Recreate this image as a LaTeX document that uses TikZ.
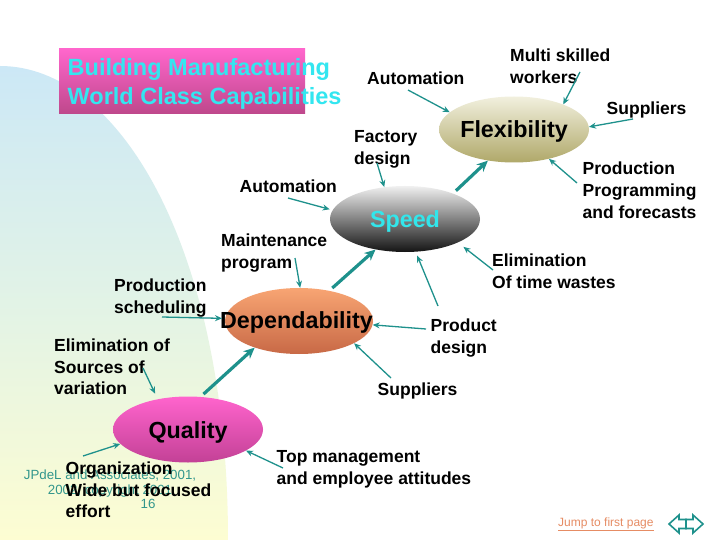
\documentclass[tikz,border=0pt]{standalone}
\usepackage{fontspec}
\setmainfont{Liberation Sans}
\usetikzlibrary{shapes.geometric,arrows.meta}
\definecolor{bgtop}{RGB}{204,232,246}
\definecolor{bgmid}{RGB}{226,243,230}
\definecolor{bgbot}{RGB}{253,253,210}
\definecolor{titletop}{RGB}{255,102,204}
\definecolor{titlebot}{RGB}{190,72,140}
\definecolor{titlecyan}{RGB}{51,230,240}
\definecolor{flextop}{RGB}{242,240,222}
\definecolor{flexbot}{RGB}{175,168,105}
\definecolor{speedtop}{RGB}{240,240,240}
\definecolor{speedbot}{RGB}{20,20,20}
\definecolor{speedtext}{RGB}{50,230,235}
\definecolor{deptop}{RGB}{248,165,115}
\definecolor{depbot}{RGB}{200,105,70}
\definecolor{qualtop}{RGB}{255,100,205}
\definecolor{qualbot}{RGB}{195,65,150}
\definecolor{arrowc}{RGB}{30,145,140}
\definecolor{wmc}{RGB}{50,150,140}
\definecolor{jumpc}{RGB}{230,140,100}
\begin{document}
\begin{tikzpicture}[x=1pt,y=-1pt,
  lbl/.style={inner sep=0pt, anchor=north west, align=left, font=\bfseries\fontsize{17.5}{21.8}\selectfont},
  oval/.style={ellipse, inner sep=0pt, minimum width=150pt, minimum height=66pt, draw=none},
  otext/.style={font=\bfseries\fontsize{23.3}{28}\selectfont, inner sep=0pt},
  tarrow/.style={draw=arrowc, line width=1.3pt, -{Stealth[length=7pt,width=6pt]}},
  barrow/.style={draw=arrowc, line width=3.2pt, -{Stealth[length=11pt,width=10pt]}, shorten <=4pt},
  navarrow/.style={draw=arrowc, line width=1.6pt, line join=miter}]
\useasboundingbox (0,0) rectangle (720,540);
\fill[white] (0,0) rectangle (720,540);
% background swoosh
\shade[top color=bgtop, bottom color=bgbot, middle color=bgmid]
  (0,66) .. controls (120,66) and (228,250) .. (228,540) -- (0,540) -- cycle;
% title
\shade[top color=titletop, bottom color=titlebot] (59,49) rectangle (305,113.5);
\node[inner sep=0pt, anchor=north west, align=left, text=titlecyan,
      font=\bfseries\fontsize{23.5}{29}\selectfont] (title) at (67.5,58.5)
      {Building Manufacturing\\World Class Capabilities};
% watermark
\node[inner sep=0pt, anchor=north, align=center, text=wmc, font=\fontsize{13.3}{15}\selectfont]
  (wm) at (110,469.8) {JPdeL and Associates, 2001,\\2002, copyright 2001};
\node[inner sep=0pt, anchor=north, text=wmc, font=\fontsize{13.3}{15}\selectfont] (pg) at (148,499) {16};
% ellipses
\node[oval, top color=flextop, bottom color=flexbot,
  label={[otext, yshift=-2.4pt]center:Flexibility}] (flex) at (514,129.5) {};
\node[oval, top color=speedtop, bottom color=speedbot,
  label={[otext, text=speedtext, yshift=-2.4pt]center:Speed}] (speed) at (405,219) {};
\node[oval, minimum width=148pt, top color=deptop, bottom color=depbot,
  label={[otext, xshift=-2.5pt, yshift=-1pt]center:Dependability}] (dep) at (299,321) {};
\node[oval, top color=qualtop, bottom color=qualbot,
  label={[otext, yshift=-3.4pt]center:Quality}] (qual) at (188,429.5) {};
% labels
\node[lbl] (l1) at (367,72) {Automation};
\node[lbl] (l2) at (510,48.5) {Multi skilled\\workers};
\node[lbl] (l3) at (606.5,101.5) {Suppliers};
\node[lbl] (l4) at (354,130) {Factory\\design};
\node[lbl] (l5) at (582.5,161.7) {Production\\Programming\\and forecasts};
\node[lbl] (l6) at (239.5,180) {Automation};
\node[lbl] (l7) at (221,233.5) {Maintenance\\program};
\node[lbl] (l8) at (492,253.5) {Elimination\\Of time wastes};
\node[lbl] (l9) at (114,279) {Production\\scheduling};
\node[lbl] (l10) at (430.5,318.5) {Product\\design};
\node[lbl] (l11) at (54,338.5) {Elimination of\\Sources of\\variation};
\node[lbl] (l12) at (377.5,382.5) {Suppliers};
\node[lbl] (l13) at (276.5,450) {Top management\\and employee attitudes};
\node[lbl] (l14) at (65.5,461.5) {Organization\\Wide but focused\\effort};
% arrow start points
\coordinate (c1) at (408,90);
\coordinate (c2) at (580,72);
\coordinate (c3) at (633,119);
\coordinate (c4) at (577,183);
\coordinate (c5) at (377,163);
\coordinate (c6) at (288,198);
\coordinate (c7) at (493,270);
\coordinate (c8) at (438,306);
\coordinate (c9) at (426,329);
\coordinate (c10) at (391,378);
\coordinate (c11) at (295,258);
\coordinate (c12) at (162,317);
\coordinate (c13) at (143,368);
\coordinate (c14) at (83,456);
\coordinate (c15) at (283,468);
% thin arrows
\draw[tarrow] (c1) -- (flex.165);
\draw[tarrow] (c2) -- (flex.27);
\draw[tarrow] (c3) -- (flex.2);
\draw[tarrow] (c4) -- (flex.320);
\draw[tarrow] (c5) -- (speed.123);
\draw[tarrow, shorten >=3pt] (c6) -- (speed.173);
\draw[tarrow, shorten >=7pt] (c7) -- (speed.336);
\draw[tarrow, shorten >=4pt] (c8) -- (speed.288);
\draw[tarrow] (c9) -- (dep.357);
\draw[tarrow] (c10) -- (dep.338);
\draw[tarrow] (c11) -- (dep.88);
\draw[tarrow, shorten >=3pt] (c12) -- (dep.178);
\draw[tarrow, shorten >=6pt] (c13) -- (qual.135);
\draw[tarrow] (c14) -- (qual.192);
\draw[tarrow] (c15) -- (qual.340);
% thick arrows
\draw[barrow] (qual.69) -- (dep.211);
\draw[barrow] (dep.45) -- (speed.226);
\draw[barrow] (speed.28) -- (flex.230);
% footer
\node[inner sep=0pt, anchor=base west, text=jumpc, font=\fontsize{12}{14}\selectfont]
  (jump) at (558,526.7) {\underline{Jump to first page}};
\draw[navarrow] (669,524) -- (679,515) -- (679,519.5) -- (686,519.5) -- (686,528.5) -- (679,528.5) -- (679,533) -- cycle;
\draw[navarrow] (703,524) -- (693,515) -- (693,519.5) -- (686,519.5) -- (686,528.5) -- (693,528.5) -- (693,533) -- cycle;
\end{tikzpicture}
\end{document}
